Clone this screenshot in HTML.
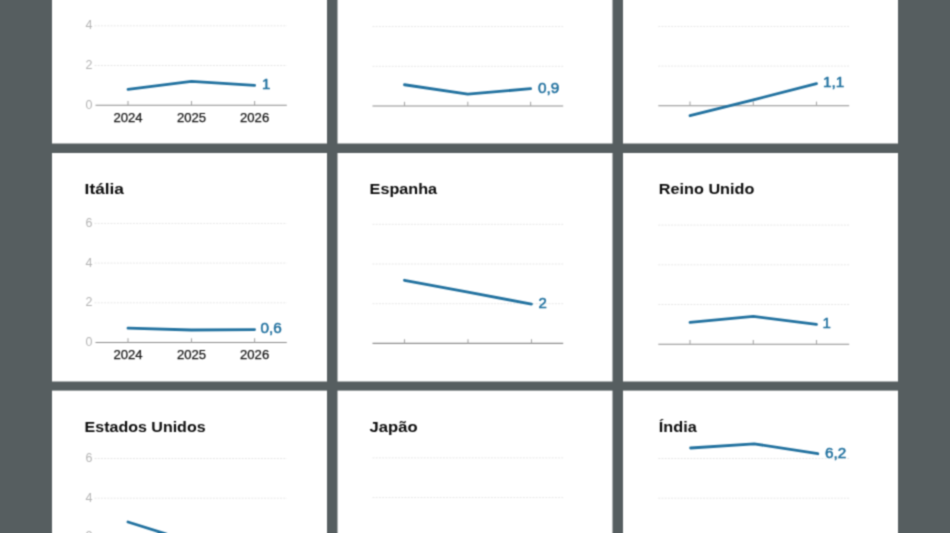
<!DOCTYPE html>
<html lang="pt">
<head>
<meta charset="utf-8">
<title>Crescimento do PIB</title>
<style>
html,body{margin:0;padding:0;background:#565e60;overflow:hidden;}
svg{display:block;}
text{font-family:"Liberation Sans",Arial,sans-serif;}
.t{font-size:15.5px;font-weight:bold;fill:#0c0c0c;}
.x{font-size:12.5px;fill:#151515;stroke:#151515;stroke-width:0.25px;text-anchor:middle;}
.y{font-size:12.5px;fill:#b4b4b4;}
.v{font-size:15px;font-weight:normal;fill:#21719f;stroke:#21719f;stroke-width:0.5px;stroke-linejoin:round;}
.g{stroke:#e7e7e7;stroke-width:1;stroke-dasharray:2 1.2;fill:none;}
.a{stroke:#8e8e8e;stroke-width:1.1;fill:none;}
.k{stroke:#a8a8a8;stroke-width:1.1;fill:none;}
.l{stroke:#21719f;stroke-width:2.8;fill:none;stroke-linejoin:round;stroke-linecap:round;}
</style>
</head>
<body>
<svg width="950" height="533" viewBox="0 0 950 533">
<defs><filter id="soft" x="0" y="0" width="950" height="533" filterUnits="userSpaceOnUse" color-interpolation-filters="sRGB"><feConvolveMatrix order="3" kernelMatrix="1 3 1 3 9 3 1 3 1" divisor="25" edgeMode="duplicate" preserveAlpha="true"/></filter></defs>
<rect x="0" y="0" width="950" height="533" fill="#565e60"/>
<g filter="url(#soft)">
<rect x="0" y="0" width="950" height="533" fill="#565e60"/>

<g>
<rect x="52" y="-84.5" width="275" height="228" fill="#fff"/>
<text class="t" x="84.6" y="-43.5">Zona Euro</text>
<line class="g" x1="94.5" y1="65.5" x2="286.8" y2="65.5"/>
<line class="g" x1="94.5" y1="25.8" x2="286.8" y2="25.8"/>
<line class="g" x1="94.5" y1="-13.9" x2="286.8" y2="-13.9"/>
<line class="a" x1="95.5" y1="105.2" x2="286.8" y2="105.2"/>
<line class="k" x1="128" y1="101" x2="128" y2="105.2"/>
<line class="k" x1="191.5" y1="101" x2="191.5" y2="105.2"/>
<line class="k" x1="254.6" y1="101" x2="254.6" y2="105.2"/>
<text class="y" x="85.4" y="108.8">0</text>
<text class="y" x="85.4" y="69.1">2</text>
<text class="y" x="85.4" y="29.4">4</text>
<text class="y" x="85.4" y="-10.3">6</text>
<text class="x" x="128" y="121.5" textLength="29.2" lengthAdjust="spacingAndGlyphs">2024</text>
<text class="x" x="191.5" y="121.5" textLength="29.2" lengthAdjust="spacingAndGlyphs">2025</text>
<text class="x" x="254.6" y="121.5" textLength="29.2" lengthAdjust="spacingAndGlyphs">2026</text>
<polyline class="l" points="128,89.32 191.5,81.38 254.6,85.35"/>
<text class="v" x="262.1" y="89.45">1</text>
</g>
<g>
<rect x="337.5" y="-84.5" width="275" height="228" fill="#fff"/>
<text class="t" x="369.6" y="-43.5">França</text>
<line class="g" x1="372.5" y1="66.3" x2="563.2" y2="66.3"/>
<line class="g" x1="372.5" y1="26.6" x2="563.2" y2="26.6"/>
<line class="g" x1="372.5" y1="-13.1" x2="563.2" y2="-13.1"/>
<line class="a" x1="372.5" y1="106" x2="563.2" y2="106"/>
<line class="k" x1="404.5" y1="101.8" x2="404.5" y2="106"/>
<line class="k" x1="467.8" y1="101.8" x2="467.8" y2="106"/>
<line class="k" x1="530.6" y1="101.8" x2="530.6" y2="106"/>
<polyline class="l" points="404.5,84.76 467.8,94.09 530.6,88.73"/>
<text class="v" x="538" y="92.53" textLength="21.3" lengthAdjust="spacingAndGlyphs">0,9</text>
</g>
<g>
<rect x="623" y="-84.5" width="275" height="228" fill="#fff"/>
<text class="t" x="658.8" y="-43.5">Alemanha</text>
<line class="g" x1="658.3" y1="66.1" x2="849.2" y2="66.1"/>
<line class="g" x1="658.3" y1="26.4" x2="849.2" y2="26.4"/>
<line class="g" x1="658.3" y1="-13.3" x2="849.2" y2="-13.3"/>
<line class="a" x1="658.3" y1="105.8" x2="849.2" y2="105.8"/>
<line class="k" x1="690" y1="101.6" x2="690" y2="105.8"/>
<line class="k" x1="753.3" y1="101.6" x2="753.3" y2="105.8"/>
<line class="k" x1="816.5" y1="101.6" x2="816.5" y2="105.8"/>
<polyline class="l" points="690,115.72 753.3,99.84 816.5,83.57"/>
<text class="v" x="822.9" y="87.37" textLength="21.3" lengthAdjust="spacingAndGlyphs">1,1</text>
</g>
<g>
<rect x="52" y="153" width="275" height="228.5" fill="#fff"/>
<text class="t" x="84.6" y="194.1" textLength="39.4" lengthAdjust="spacingAndGlyphs">Itália</text>
<line class="g" x1="94.5" y1="302.8" x2="286.8" y2="302.8"/>
<line class="g" x1="94.5" y1="263.1" x2="286.8" y2="263.1"/>
<line class="g" x1="94.5" y1="223.4" x2="286.8" y2="223.4"/>
<line class="a" x1="95.5" y1="342.5" x2="286.8" y2="342.5"/>
<line class="k" x1="128" y1="338.3" x2="128" y2="342.5"/>
<line class="k" x1="191.5" y1="338.3" x2="191.5" y2="342.5"/>
<line class="k" x1="254.6" y1="338.3" x2="254.6" y2="342.5"/>
<text class="y" x="85.4" y="346.1">0</text>
<text class="y" x="85.4" y="306.4">2</text>
<text class="y" x="85.4" y="266.7">4</text>
<text class="y" x="85.4" y="227">6</text>
<text class="x" x="128" y="358.8" textLength="29.2" lengthAdjust="spacingAndGlyphs">2024</text>
<text class="x" x="191.5" y="358.8" textLength="29.2" lengthAdjust="spacingAndGlyphs">2025</text>
<text class="x" x="254.6" y="358.8" textLength="29.2" lengthAdjust="spacingAndGlyphs">2026</text>
<polyline class="l" points="128,328.21 191.5,329.99 254.6,329.6"/>
<text class="v" x="260.5" y="332.9" textLength="21.3" lengthAdjust="spacingAndGlyphs">0,6</text>
</g>
<g>
<rect x="337.5" y="153" width="275" height="228.5" fill="#fff"/>
<text class="t" x="369.6" y="194.1" textLength="67.5" lengthAdjust="spacingAndGlyphs">Espanha</text>
<line class="g" x1="372.5" y1="303.7" x2="563.2" y2="303.7"/>
<line class="g" x1="372.5" y1="264" x2="563.2" y2="264"/>
<line class="g" x1="372.5" y1="224.3" x2="563.2" y2="224.3"/>
<line class="a" x1="372.5" y1="343.4" x2="563.2" y2="343.4"/>
<line class="k" x1="404.5" y1="339.2" x2="404.5" y2="343.4"/>
<line class="k" x1="468" y1="339.2" x2="468" y2="343.4"/>
<line class="k" x1="531.5" y1="339.2" x2="531.5" y2="343.4"/>
<polyline class="l" points="404.5,280.28 468,292.19 531.5,304.1"/>
<text class="v" x="538.6" y="307.9">2</text>
</g>
<g>
<rect x="623" y="153" width="275" height="228.5" fill="#fff"/>
<text class="t" x="658.8" y="194.1" textLength="95.6" lengthAdjust="spacingAndGlyphs">Reino Unido</text>
<line class="g" x1="658.3" y1="304.5" x2="849.2" y2="304.5"/>
<line class="g" x1="658.3" y1="264.8" x2="849.2" y2="264.8"/>
<line class="g" x1="658.3" y1="225.1" x2="849.2" y2="225.1"/>
<line class="a" x1="658.3" y1="344.2" x2="849.2" y2="344.2"/>
<line class="k" x1="690" y1="340" x2="690" y2="344.2"/>
<line class="k" x1="753.3" y1="340" x2="753.3" y2="344.2"/>
<line class="k" x1="816.5" y1="340" x2="816.5" y2="344.2"/>
<polyline class="l" points="690,322.37 753.3,316.41 816.5,324.35"/>
<text class="v" x="822.4" y="328.15">1</text>
</g>
<g>
<rect x="52" y="390.6" width="275" height="228.5" fill="#fff"/>
<text class="t" x="84.6" y="431.6" textLength="121" lengthAdjust="spacingAndGlyphs">Estados Unidos</text>
<line class="g" x1="94.5" y1="537.9" x2="286.8" y2="537.9"/>
<line class="g" x1="94.5" y1="498.2" x2="286.8" y2="498.2"/>
<line class="g" x1="94.5" y1="458.5" x2="286.8" y2="458.5"/>
<line class="a" x1="95.5" y1="577.6" x2="286.8" y2="577.6"/>
<line class="k" x1="128" y1="573.4" x2="128" y2="577.6"/>
<line class="k" x1="191.5" y1="573.4" x2="191.5" y2="577.6"/>
<line class="k" x1="254.6" y1="573.4" x2="254.6" y2="577.6"/>
<text class="y" x="85.4" y="581.2">0</text>
<text class="y" x="85.4" y="539.9">2</text>
<text class="y" x="85.4" y="501.8">4</text>
<text class="y" x="85.4" y="462.1">6</text>
<text class="x" x="128" y="593.9" textLength="29.2" lengthAdjust="spacingAndGlyphs">2024</text>
<text class="x" x="191.5" y="593.9" textLength="29.2" lengthAdjust="spacingAndGlyphs">2025</text>
<text class="x" x="254.6" y="593.9" textLength="29.2" lengthAdjust="spacingAndGlyphs">2026</text>
<polyline class="l" points="128,522.02 191.5,541.87 254.6,543.86"/>
<text class="v" x="260.5" y="547.65" textLength="21.3" lengthAdjust="spacingAndGlyphs">1,7</text>
</g>
<g>
<rect x="337.5" y="390.6" width="275" height="228.5" fill="#fff"/>
<text class="t" x="369.6" y="431.6" textLength="48" lengthAdjust="spacingAndGlyphs">Japão</text>
<line class="g" x1="372.5" y1="537.3" x2="563.2" y2="537.3"/>
<line class="g" x1="372.5" y1="497.6" x2="563.2" y2="497.6"/>
<line class="g" x1="372.5" y1="457.9" x2="563.2" y2="457.9"/>
<line class="a" x1="372.5" y1="577" x2="563.2" y2="577"/>
<line class="k" x1="404.5" y1="572.8" x2="404.5" y2="577"/>
<line class="k" x1="467.8" y1="572.8" x2="467.8" y2="577"/>
<line class="k" x1="530.6" y1="572.8" x2="530.6" y2="577"/>
</g>
<g>
<rect x="623" y="390.6" width="275" height="228.5" fill="#fff"/>
<text class="t" x="658.8" y="431.6" textLength="37.9" lengthAdjust="spacingAndGlyphs">Índia</text>
<line class="g" x1="658.3" y1="537.9" x2="849.2" y2="537.9"/>
<line class="g" x1="658.3" y1="498.2" x2="849.2" y2="498.2"/>
<line class="g" x1="658.3" y1="458.5" x2="849.2" y2="458.5"/>
<line class="a" x1="658.3" y1="577.6" x2="849.2" y2="577.6"/>
<line class="k" x1="690.6" y1="573.4" x2="690.6" y2="577.6"/>
<line class="k" x1="754.2" y1="573.4" x2="754.2" y2="577.6"/>
<line class="k" x1="817.8" y1="573.4" x2="817.8" y2="577.6"/>
<polyline class="l" points="690.6,447.98 754.2,443.81 817.8,453.74"/>
<text class="v" x="824.9" y="457.84" textLength="21.3" lengthAdjust="spacingAndGlyphs">6,2</text>
</g>
</g>
</svg>
</body>
</html>
